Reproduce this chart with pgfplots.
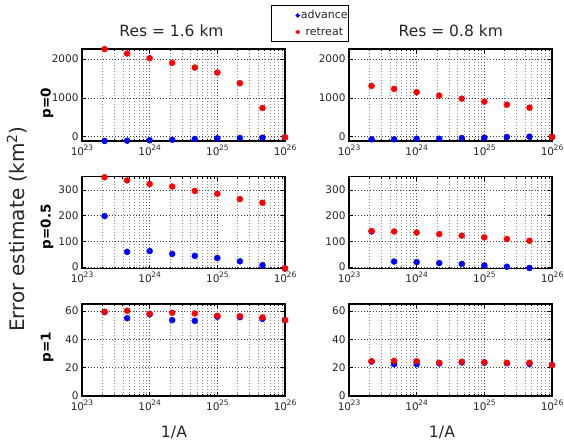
\documentclass[border=0pt]{standalone}
\usepackage{fontspec}
\setmainfont{DejaVu Sans}
\usepackage{pgfplots}
\usepackage{pgfplotstable}
\pgfplotsset{compat=1.18}

% p=0
\pgfplotstableread{
x        adv   ret
2.154e23 -111  2260
4.642e23 -103  2145
1e24     -93   2025
2.154e24 -78   1905
4.642e24 -59   1783
1e25     -41   1654
2.154e25 -34   1380
4.642e25 -26   742
1e26     -20   -17
}\pzeroA
\pgfplotstableread{
x        adv   ret
2.154e23 -67   1310
4.642e23 -67   1233
1e24     -52   1147
2.154e24 -52   1060
4.642e24 -34   982
1e25     -26   904
2.154e25 -8    827
4.642e25 0     749
1e26     -5    -8
}\pzeroB
% p=0.5
\pgfplotstableread{
x        adv   ret
2.154e23 198   349
4.642e23 59    337
1e24     62    323
2.154e24 51    313
4.642e24 43    296
1e25     35    285
2.154e25 22    264
4.642e25 7     250
1e26     -6    -6
}\phalfA
\pgfplotstableread{
x        adv   ret
2.154e23 138   140
4.642e23 21    138
1e24     19    134
2.154e24 15    128
4.642e24 12    122
1e25     6     115
2.154e25 1     109
4.642e25 -4    102
}\phalfB
% p=1
\pgfplotstableread{
x        adv   ret
2.154e23 59.3  59.5
4.642e23 55.0  60.2
1e24     57.7  58.1
2.154e24 53.6  58.8
4.642e24 53.1  58.3
1e25     56.0  56.7
2.154e25 55.7  56.4
4.642e25 54.5  55.5
1e26     53.6  53.6
}\poneA
\pgfplotstableread{
x        adv   ret
2.154e23 24.3  24.6
4.642e23 22.5  24.9
1e24     22.5  24.6
2.154e24 23.0  23.5
4.642e24 23.7  24.2
1e25     23.5  23.9
2.154e25 23.2  23.5
4.642e25 22.7  23.5
1e26     21.8  21.8
}\poneB

\newcommand{\tl}[1]{10\kern-0.4pt\raisebox{5pt}{\fontsize{7.5}{8}\selectfont #1}}

\pgfplotsset{
  mypanel/.style={
    /pgfplots/scale only axis,
    /pgfplots/width=203pt, /pgfplots/height=92pt,
    /pgfplots/xmin=1e23, /pgfplots/xmax=1e26,
    /pgfplots/xtick={1e23,1e24,1e25,1e26},
    /pgfplots/xticklabels={\tl{23},\tl{24},\tl{25},\tl{26}},
    /pgfplots/minor xtick={2e23,3e23,4e23,5e23,6e23,7e23,8e23,9e23,
                 2e24,3e24,4e24,5e24,6e24,7e24,8e24,9e24,
                 2e25,3e25,4e25,5e25,6e25,7e25,8e25,9e25},
    /pgfplots/xtick pos=both, /pgfplots/ytick pos=both, /pgfplots/tick align=inside,
    /pgfplots/major tick length=4pt, /pgfplots/minor tick length=2pt,
    /pgfplots/tick style={black, line width=0.6pt},
    /pgfplots/xmajorgrids, /pgfplots/xminorgrids, /pgfplots/ymajorgrids,
    /pgfplots/major grid style={black!75, line width=0.5pt, dash pattern=on 0.8pt off 2.2pt},
    /pgfplots/minor grid style={black!45, line width=0.5pt, dash pattern=on 0.8pt off 2.2pt},
    /pgfplots/axis line style={line width=1.2pt},
    /pgfplots/tick label style={font=\fontsize{10.5}{12}\selectfont, text=black!85},
    /pgf/number format/assume math mode=true,
    /pgf/number format/set thousands separator={},
    /pgfplots/clip=false,
  },
  dotleg/.style={/pgfplots/legend image code/.code={\path (0pt,0pt) (27pt,0pt); \fill (26pt,0pt) circle (1.8pt);}},
  advpts/.style={/tikz/only marks, /tikz/mark=*, /tikz/color=blue, /tikz/mark size=3pt, /tikz/mark options={draw=none}, dotleg},
  retpts/.style={/tikz/only marks, /tikz/mark=*, /tikz/color=red, /tikz/mark size=3pt, /tikz/mark options={draw=none}, dotleg},
  rowA/.style={/pgfplots/ymin=-111, /pgfplots/ymax=2262, /pgfplots/ytick={0,1000,2000}},
  rowB/.style={/pgfplots/ymin=-6, /pgfplots/ymax=352, /pgfplots/ytick={0,100,200,300}},
  rowC/.style={/pgfplots/ymin=0, /pgfplots/ymax=65, /pgfplots/ytick={0,20,40,60}},
}

\begin{document}
\begin{tikzpicture}
\useasboundingbox (0pt,0pt) rectangle (564pt,-440pt);

\begin{axis}[xmode=log, mypanel, rowA, at={(82pt,-49pt)}, anchor=north west,
  legend style={at={(1.1232,1.275)}, anchor=center, draw=black, line width=0.8pt,
    inner xsep=0pt, inner ysep=4.6pt, row sep=6.4pt,
    nodes={inner xsep=1pt, inner ysep=0pt, text height=8.2pt, text depth=2pt,
      font=\fontsize{11}{13}\selectfont, text=black!85}},
  legend cell align=center]
\addplot[advpts] table[x=x, y=adv] {\pzeroA};
\addplot[retpts] table[x=x, y=ret] {\pzeroA};
\legend{advance, retreat}
\end{axis}
\begin{axis}[xmode=log, mypanel, rowA, at={(349pt,-49pt)}, anchor=north west]
\addplot[advpts] table[x=x, y=adv] {\pzeroB};
\addplot[retpts] table[x=x, y=ret] {\pzeroB};
\end{axis}

\begin{axis}[xmode=log, mypanel, rowB, at={(82pt,-176.5pt)}, anchor=north west]
\addplot[advpts] table[x=x, y=adv] {\phalfA};
\addplot[retpts] table[x=x, y=ret] {\phalfA};
\end{axis}
\begin{axis}[xmode=log, mypanel, rowB, at={(349pt,-176.5pt)}, anchor=north west]
\addplot[advpts] table[x=x, y=adv] {\phalfB};
\addplot[retpts] table[x=x, y=ret] {\phalfB};
\end{axis}

\begin{axis}[xmode=log, mypanel, rowC, at={(82pt,-304pt)}, anchor=north west]
\addplot[advpts] table[x=x, y=adv] {\poneA};
\addplot[retpts] table[x=x, y=ret] {\poneA};
\end{axis}
\begin{axis}[xmode=log, mypanel, rowC, at={(349pt,-304pt)}, anchor=north west]
\addplot[advpts] table[x=x, y=adv] {\poneB};
\addplot[retpts] table[x=x, y=ret] {\poneB};
\end{axis}

\node[anchor=base, font=\fontsize{15.5}{18}\selectfont, text=black!85] at (171.5pt,-36.7pt) {Res = 1.6 km};
\node[anchor=base, font=\fontsize{15.5}{18}\selectfont, text=black!85] at (450.8pt,-36.7pt) {Res = 0.8 km};
\node[anchor=base, font=\fontsize{15.7}{18}\selectfont, text=black!85] at (174pt,-437.5pt) {1/A};
\node[anchor=base, font=\fontsize{15.7}{18}\selectfont, text=black!85] at (442pt,-437.5pt) {1/A};
\node[rotate=90, font=\fontsize{20}{24}\selectfont, text=black!85] at (17pt,-229pt) {Error estimate (km\textsuperscript{2})};
\node[rotate=90, font=\fontsize{13.5}{16}\selectfont\bfseries] at (47pt,-103pt) {p=0};
\node[rotate=90, font=\fontsize{13.5}{16}\selectfont\bfseries] at (47pt,-226.7pt) {p=0.5};
\node[rotate=90, font=\fontsize{13.5}{16}\selectfont\bfseries] at (47pt,-347pt) {p=1};
\end{tikzpicture}
\end{document}
